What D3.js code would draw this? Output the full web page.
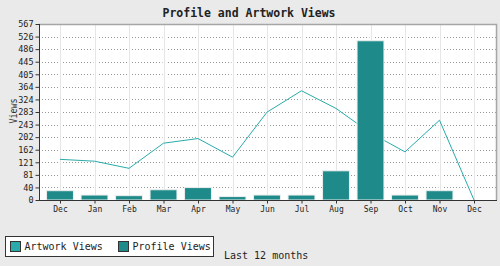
<!DOCTYPE html>
<html>
<head>
<meta charset="utf-8">
<script src="https://cdn.jsdelivr.net/npm/d3@7"></script>
<style>
  html, body { margin: 0; padding: 0; background: #eaeaea; }
  svg { display: block; font-family: "DejaVu Sans Mono", monospace; }
</style>
</head>
<body>
<svg id="chart" width="500" height="266"></svg>
<script>
// chart data
const months = ['Dec', 'Jan', 'Feb', 'Mar', 'Apr', 'May', 'Jun', 'Jul', 'Aug', 'Sep', 'Oct', 'Nov', 'Dec'];
const artworkViews = [131, 125, 102, 183, 198, 138, 283, 352, 295, 216, 155, 257, 0];
const profileViews = [30, 16, 14, 33, 40, 11, 16, 16, 94, 513, 16, 30, 0];
const yMax = 567;
const yTickLabels = ['0', '40', '81', '121', '162', '202', '243', '283', '324', '364', '405', '445', '486', '526', '567'];
const seriesNames = ['Artwork Views', 'Profile Views'];

const artColor = '#2aabab';
const profColor = '#1e8a8a';

const svg = d3.select('#chart');
const W = 500, H = 266;
const plot = { left: 39, right: 496, top: 24, bottom: 200 };

svg.append('rect').attr('width', W).attr('height', H).attr('fill', '#eaeaea');

// title
svg.append('text')
  .attr('x', 249).attr('y', 16.5)
  .attr('text-anchor', 'middle')
  .attr('font-size', 11.5).attr('font-weight', 'bold')
  .attr('fill', '#222')
  .text('Profile and Artwork Views');

// scales
const x = d3.scalePoint()
  .domain(d3.range(months.length))
  .range([60, 474]);
const barW = x.step() * 0.78;

const y = d3.scaleLinear()
  .domain([0, yMax])
  .range([plot.bottom, plot.top]);
const yTicks = yTickLabels.map((_, i) => i * yMax / (yTickLabels.length - 1));

// plot background
svg.append('rect')
  .attr('x', plot.left).attr('y', plot.top)
  .attr('width', plot.right - plot.left).attr('height', plot.bottom - plot.top)
  .attr('fill', '#fff');

// horizontal dotted grid
svg.append('g')
  .selectAll('line')
  .data(yTicks.slice(1))
  .join('line')
  .attr('x1', plot.left + 3).attr('x2', plot.right)
  .attr('y1', d => Math.round(y(d)) + 0.5).attr('y2', d => Math.round(y(d)) + 0.5)
  .attr('stroke', '#999')
  .attr('stroke-dasharray', '1,2');

// vertical grid
svg.append('g')
  .selectAll('line')
  .data(d3.range(months.length))
  .join('line')
  .attr('x1', d => Math.round(x(d)) + 0.5).attr('x2', d => Math.round(x(d)) + 0.5)
  .attr('y1', plot.top).attr('y2', plot.bottom)
  .attr('stroke', '#fff').attr('stroke-width', 4);
svg.append('g')
  .selectAll('line')
  .data(d3.range(months.length))
  .join('line')
  .attr('x1', d => Math.round(x(d)) + 0.5).attr('x2', d => Math.round(x(d)) + 0.5)
  .attr('y1', plot.top).attr('y2', plot.bottom)
  .attr('stroke', '#e6e6e6').attr('stroke-width', 1);

// artwork line (drawn under the bars)
const line = d3.line()
  .x((d, i) => x(i))
  .y(d => y(d));
svg.append('path')
  .datum(artworkViews)
  .attr('d', line)
  .attr('fill', 'none')
  .attr('stroke', artColor)
  .attr('stroke-width', 1);

// profile bars
svg.append('g')
  .selectAll('rect')
  .data(profileViews.map((v, i) => ({ v, i })).filter(d => d.v > 0))
  .join('rect')
  .attr('x', d => x(d.i) - barW / 2)
  .attr('y', d => y(d.v))
  .attr('width', barW)
  .attr('height', d => y(0) - y(d.v))
  .attr('fill', profColor)
  .attr('stroke', '#eeeeee')
  .attr('stroke-width', 1);

// top and right frame
svg.append('path')
  .attr('d', `M${plot.left},${plot.top + 0.5}H${plot.right + 0.5}V${plot.bottom}`)
  .attr('fill', 'none')
  .attr('stroke', '#a6a6a6')
  .attr('stroke-width', 1.5);

// y axis
const yAxis = d3.axisLeft(y)
  .tickValues(yTicks)
  .tickFormat((d, i) => yTickLabels[i])
  .tickSize(4)
  .tickPadding(2);
const gy = svg.append('g')
  .attr('transform', `translate(${plot.left + 0.5},0)`)
  .call(yAxis);
gy.select('.domain').attr('stroke', '#333').attr('d', `M0,${plot.top}V${plot.bottom}`);
gy.selectAll('.tick line').attr('stroke', '#333');
gy.selectAll('.tick text')
  .attr('font-family', '"DejaVu Sans Mono", monospace')
  .attr('font-size', 8.5)
  .attr('fill', '#222');

// x axis
const xAxis = d3.axisBottom(x)
  .tickFormat(i => months[i])
  .tickSize(3)
  .tickPadding(3);
const gx = svg.append('g')
  .attr('transform', `translate(0,${plot.bottom + 0.5})`)
  .call(xAxis);
gx.select('.domain').attr('stroke', '#333').attr('d', `M${plot.left},0H${plot.right + 1}`);
gx.selectAll('.tick line').attr('stroke', '#333');
gx.selectAll('.tick text')
  .attr('font-family', '"DejaVu Sans Mono", monospace')
  .attr('font-size', 8)
  .attr('fill', '#222');

// y label
svg.append('text')
  .attr('transform', 'translate(16.5,111) rotate(-90)')
  .attr('text-anchor', 'middle')
  .attr('font-size', 10)
  .attr('textLength', 25)
  .attr('lengthAdjust', 'spacingAndGlyphs')
  .attr('fill', '#333')
  .text('Views');

// legend
const legend = svg.append('g');
legend.append('rect')
  .attr('x', 5.5).attr('y', 236.5)
  .attr('width', 208).attr('height', 20)
  .attr('fill', '#fff').attr('stroke', '#333').attr('stroke-width', 1);
const legendItems = [
  { name: seriesNames[0], color: artColor, x: 10.5 },
  { name: seriesNames[1], color: profColor, x: 118.5 }
];
legendItems.forEach(it => {
  legend.append('rect')
    .attr('x', it.x).attr('y', 241.5)
    .attr('width', 10).attr('height', 10)
    .attr('fill', it.color).attr('stroke', '#333');
  legend.append('text')
    .attr('x', it.x + 14).attr('y', 249.5)
    .attr('font-size', 10)
    .attr('fill', '#222')
    .text(it.name);
});

svg.append('text')
  .attr('x', 224).attr('y', 258.5)
  .attr('font-size', 10)
  .attr('fill', '#222')
  .text('Last 12 months');
</script>
</body>
</html>
